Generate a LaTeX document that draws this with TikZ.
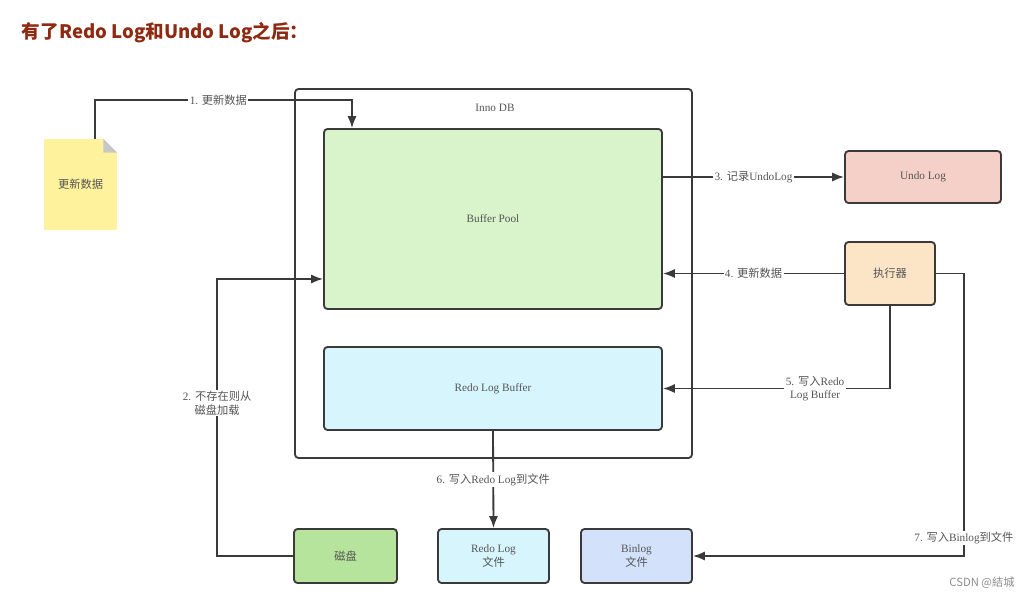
\documentclass[tikz,border=0pt]{standalone}
\usepackage{fontspec}
\setmainfont{Liberation Serif}
\newfontfamily\cjk{Noto Sans CJK SC}
\usetikzlibrary{arrows.meta}

\newlength{\unitpx}
\setlength{\unitpx}{0.025cm}
\def\zh#1{{\cjk #1}}

\definecolor{edge}{HTML}{3A3A3A}
\definecolor{txtgray}{HTML}{555555}
\definecolor{titlered}{HTML}{8E2A12}
\definecolor{poolgreen}{HTML}{D9F3CA}
\definecolor{bufcyan}{HTML}{D6F5FD}
\definecolor{docyellow}{HTML}{FFF29C}
\definecolor{undopink}{HTML}{F5D0C9}
\definecolor{execorange}{HTML}{FCE4C6}
\definecolor{diskgreen}{HTML}{B6E49C}
\definecolor{binblue}{HTML}{D3E1FB}

\begin{document}
\begin{tikzpicture}[x=\unitpx,y=-\unitpx,
  every text node part/.style={align=center},
  box/.style={draw=edge,line width=1.3pt,rounded corners=2.5pt,
    text=txtgray,font=\footnotesize},
  lbl/.style={fill=white,inner sep=1pt,text=txtgray,font=\footnotesize},
  link/.style={draw=edge,line width=1.3pt,-{Latex[length=8.5pt,width=6.5pt]}}]
  \useasboundingbox (0,0) rectangle (1033,598);

  \node[anchor=west,text=titlered,font=\cjk\bfseries\fontsize{13.2}{16}\selectfont] (title) at (17,33)
    {有了Redo Log和Undo Log之后：};

  % InnoDB and its two areas
  \node[box,fill=white,minimum width=397\unitpx,minimum height=369\unitpx] (inno) at (493.5,273.5) {};
  \node[text=txtgray,font=\footnotesize] (innolbl) at (495,108) {Inno DB};
  \node[box,fill=poolgreen,minimum width=338\unitpx,minimum height=180\unitpx] (pool) at (493,219) {Buffer Pool};
  \node[box,fill=bufcyan,minimum width=338\unitpx,minimum height=83\unitpx] (rbuf) at (493,388.5) {Redo Log Buffer};

  % document with folded corner
  \node[fill=docyellow,text=txtgray,font=\footnotesize,minimum width=73\unitpx,minimum height=91\unitpx] (doc) at (80.5,184.5) {\zh{更新数据}};
  \fill[white] ([xshift=-14\unitpx]doc.north east) -- (doc.north east) -- ([yshift=-14\unitpx]doc.north east) -- cycle;
  \fill[black!22] ([xshift=-14\unitpx]doc.north east) -- ([yshift=-14\unitpx]doc.north east) -- ([xshift=-14\unitpx,yshift=-14\unitpx]doc.north east) -- cycle;

  \node[box,fill=undopink,minimum width=156\unitpx,minimum height=52\unitpx] (undo) at (923,177) {Undo Log};
  \node[box,fill=execorange,minimum width=90\unitpx,minimum height=63\unitpx] (exec) at (890,273.5) {\zh{执行器}};
  \node[box,fill=diskgreen,minimum width=103\unitpx,minimum height=54\unitpx] (disk) at (345.5,556) {\zh{磁盘}};
  \node[box,fill=bufcyan,minimum width=111\unitpx,minimum height=54\unitpx] (rfile) at (493.5,556) {Redo Log\\\zh{文件}};
  \node[box,fill=binblue,minimum width=111\unitpx,minimum height=54\unitpx] (bfile) at (636.5,556) {Binlog\\\zh{文件}};

  \draw[link] ([xshift=14.5\unitpx]doc.north) |- ([xshift=-141\unitpx,yshift=28\unitpx]pool.north)
    node[lbl,pos=0.74] {1. \zh{更新数据}} -- ([xshift=-141\unitpx]pool.north);
  \draw[link] (disk.west) -| ([xshift=-106\unitpx,yshift=-60\unitpx]pool.west)
    node[lbl,pos=0.776] {2. \zh{不存在则从}\\\zh{磁盘加载}} -- ([yshift=-60\unitpx]pool.west);
  \draw[link] (pool.east |- undo.west) -- (undo.west) node[lbl,midway] {3. \zh{记录}UndoLog};
  \draw[link] (exec.west) -- (exec.west -| pool.east) node[lbl,midway] {4. \zh{更新数据}};
  \draw[link] (exec.south) |- (rbuf.east) node[lbl,pos=0.665] {5. \zh{写入}Redo\\Log Buffer};
  \draw[link] (rbuf.south) -- (rfile.north) node[lbl,midway] {6. \zh{写入}Redo Log\zh{到文件}};
  \draw[link] (exec.east) -- ++(28,0) |- (bfile.east) node[lbl,pos=0.468] {7. \zh{写入}Binlog\zh{到文件}};

  \node[text=black!45,font=\cjk\footnotesize] (mark) at (982,583) {CSDN @結城};
\end{tikzpicture}
\end{document}
